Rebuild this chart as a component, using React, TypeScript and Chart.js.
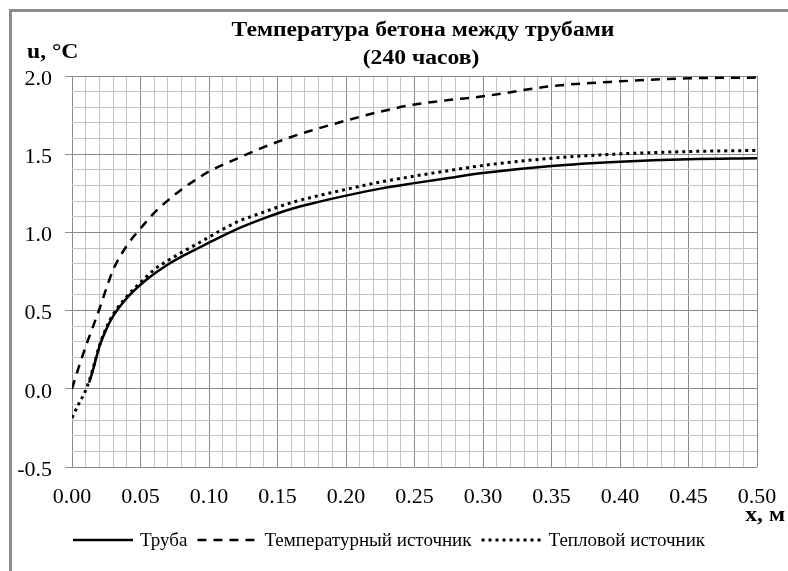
import React, { useEffect, useRef } from 'react';
import { Chart, registerables } from 'chart.js';

Chart.register(...registerables);

const TITLE_LINES = ['Температура бетона между трубами', '(240 часов)'];
const Y_TITLE = 'u, °C';
const X_TITLE = 'x, м';
const SERIES_NAMES = ['Труба', 'Температурный источник', 'Тепловой источник'];

const X_VALUES = [0, 0.005, 0.01, 0.0125, 0.015, 0.02, 0.025, 0.03, 0.04, 0.05, 0.06, 0.07, 0.08, 0.09, 0.1, 0.12, 0.14, 0.16, 0.18, 0.2, 0.225, 0.25, 0.275, 0.3, 0.35, 0.4, 0.45, 0.5];
const PIPE = [null, null, null, 0.04, 0.11, 0.27, 0.38, 0.465, 0.58, 0.665, 0.735, 0.795, 0.845, 0.89, 0.935, 1.02, 1.09, 1.15, 1.195, 1.235, 1.28, 1.315, 1.348, 1.38, 1.425, 1.452, 1.468, 1.474];
const TEMP_SOURCE = [0.0, 0.14, 0.27, 0.33, 0.39, 0.51, 0.64, 0.76, 0.915, 1.025, 1.125, 1.205, 1.275, 1.335, 1.39, 1.47, 1.545, 1.61, 1.665, 1.715, 1.772, 1.818, 1.846, 1.87, 1.935, 1.966, 1.985, 1.99];
const HEAT_SOURCE = [-0.185, -0.095, -0.01, 0.05, 0.12, 0.275, 0.39, 0.475, 0.59, 0.68, 0.762, 0.82, 0.872, 0.92, 0.97, 1.065, 1.13, 1.19, 1.235, 1.275, 1.322, 1.36, 1.395, 1.428, 1.474, 1.502, 1.517, 1.524];

const X_MIN = 0;
const X_MAX = 0.5;
const X_STEP = 0.01;
const X_LABEL_STEP = 0.05;
const Y_MIN = -0.5;
const Y_MAX = 2.0;
const Y_STEP = 0.1;
const Y_LABEL_STEP = 0.5;

const FONT = '"Liberation Serif", "Times New Roman", serif';
const MAJOR = '#8a8a8a';
const MINOR = '#c4c4c4';
const STRETCH = 1.18;

const toPoints = (ys: (number | null)[]) => X_VALUES.map((x, i) => ({ x, y: ys[i] }));
const isMajor = (v: number, step: number) => Math.abs(v / step - Math.round(v / step)) < 1e-6;

const stretchedText = (ctx: any, text: string, x: number, y: number, align: string) => {
  ctx.save();
  ctx.translate(x, y);
  ctx.scale(STRETCH, 1);
  ctx.textAlign = align;
  ctx.fillText(text, 0, 0);
  ctx.restore();
};

const decor = {
  id: 'decor',
  beforeDraw(chart: any) {
    const ctx = chart.ctx;
    ctx.save();
    ctx.fillStyle = '#ffffff';
    ctx.fillRect(0, 0, chart.width, chart.height);
    ctx.strokeStyle = '#8c8c8c';
    ctx.lineWidth = 3;
    ctx.beginPath();
    ctx.moveTo(10.5, chart.height + 5);
    ctx.lineTo(10.5, 10.5);
    ctx.lineTo(chart.width + 5, 10.5);
    ctx.stroke();
    ctx.restore();
  },
  afterDraw(chart: any) {
    const ctx = chart.ctx;
    ctx.save();
    ctx.fillStyle = '#000000';
    ctx.textBaseline = 'alphabetic';
    ctx.font = `bold 20px ${FONT}`;
    stretchedText(ctx, TITLE_LINES[0], 423, 36, 'center');
    stretchedText(ctx, TITLE_LINES[1], 421, 64, 'center');
    stretchedText(ctx, Y_TITLE, 27, 58, 'left');
    stretchedText(ctx, X_TITLE, 785, 521, 'right');

    // legend
    ctx.font = `19px ${FONT}`;
    const lineLen = 60;
    const gapText = 7;
    const gapItem = 10;
    const items = chart.data.datasets.map((ds: any) => ({ ds, w: ctx.measureText(ds.label).width }));
    const total = items.reduce((s: number, it: any) => s + lineLen + gapText + it.w, 0) + gapItem * (items.length - 1);
    let x = 389 - total / 2;
    const y = 540;
    items.forEach((it: any) => {
      ctx.save();
      ctx.strokeStyle = it.ds.borderColor;
      ctx.lineWidth = it.ds.borderWidth;
      ctx.setLineDash(it.ds.borderDash || []);
      ctx.beginPath();
      ctx.moveTo(x, y);
      ctx.lineTo(x + lineLen, y);
      ctx.stroke();
      ctx.restore();
      x += lineLen + gapText;
      ctx.textAlign = 'left';
      ctx.textBaseline = 'middle';
      ctx.fillText(it.ds.label, x, y + 1);
      x += it.w + gapItem;
    });
    ctx.restore();
  },
};

export default function App() {
  const ref = useRef<HTMLCanvasElement>(null);
  useEffect(() => {
    if (!ref.current) return;
    const chart = new Chart(ref.current, {
      type: 'line',
      data: {
        datasets: [
          {
            label: SERIES_NAMES[0],
            data: toPoints(PIPE),
            borderColor: '#000000',
            borderWidth: 2.5,
            borderDash: [],
            pointRadius: 0,
            cubicInterpolationMode: 'monotone',
            fill: false,
          },
          {
            label: SERIES_NAMES[1],
            data: toPoints(TEMP_SOURCE),
            borderColor: '#000000',
            borderWidth: 2.5,
            borderDash: [9, 7],
            pointRadius: 0,
            cubicInterpolationMode: 'monotone',
            fill: false,
          },
          {
            label: SERIES_NAMES[2],
            data: toPoints(HEAT_SOURCE),
            borderColor: '#000000',
            borderWidth: 3,
            borderDash: [3, 4],
            pointRadius: 0,
            cubicInterpolationMode: 'monotone',
            fill: false,
          },
        ],
      },
      options: {
        animation: false,
        responsive: false,
        maintainAspectRatio: false,
        layout: { padding: { top: 76, right: 31, left: 0, bottom: 0 } },
        plugins: { legend: { display: false }, title: { display: false }, tooltip: { enabled: false } },
        scales: {
          x: {
            type: 'linear',
            min: X_MIN,
            max: X_MAX,
            afterFit: (s: any) => { s.height = 571 - 467; },
            border: { display: false },
            grid: {
              color: (c: any) => (isMajor(c.tick.value, X_LABEL_STEP) ? MAJOR : MINOR),
              tickColor: 'rgba(0,0,0,0)',
              tickLength: 6,
              lineWidth: 1,
            },
            ticks: {
              stepSize: X_STEP,
              autoSkip: false,
              maxRotation: 0,
              minRotation: 0,
              padding: 11,
              color: '#000000',
              font: { family: FONT, size: 22 },
              callback: (v: any) => (isMajor(Number(v), X_LABEL_STEP) ? Number(v).toFixed(2) : ''),
            },
          },
          y: {
            type: 'linear',
            min: Y_MIN,
            max: Y_MAX,
            afterFit: (s: any) => { s.width = 72; },
            border: { display: false },
            grid: {
              color: (c: any) => (isMajor(c.tick.value, Y_LABEL_STEP) ? MAJOR : MINOR),
              tickColor: (c: any) => (isMajor(c.tick.value, Y_LABEL_STEP) ? MAJOR : 'rgba(0,0,0,0)'),
              tickLength: 7,
              lineWidth: 1,
            },
            ticks: {
              stepSize: Y_STEP,
              autoSkip: false,
              padding: 13,
              labelOffset: 3,
              color: '#000000',
              font: { family: FONT, size: 22 },
              callback: (v: any) => (isMajor(Number(v), Y_LABEL_STEP) ? Number(v).toFixed(1) : ''),
            },
          },
        },
      },
      plugins: [decor],
    } as any);
    return () => chart.destroy();
  }, []);
  return (
    <div style={{ position: 'absolute', left: 0, top: 0, width: 788, height: 571 }}>
      <canvas ref={ref} width={788} height={571} />
    </div>
  );
}
